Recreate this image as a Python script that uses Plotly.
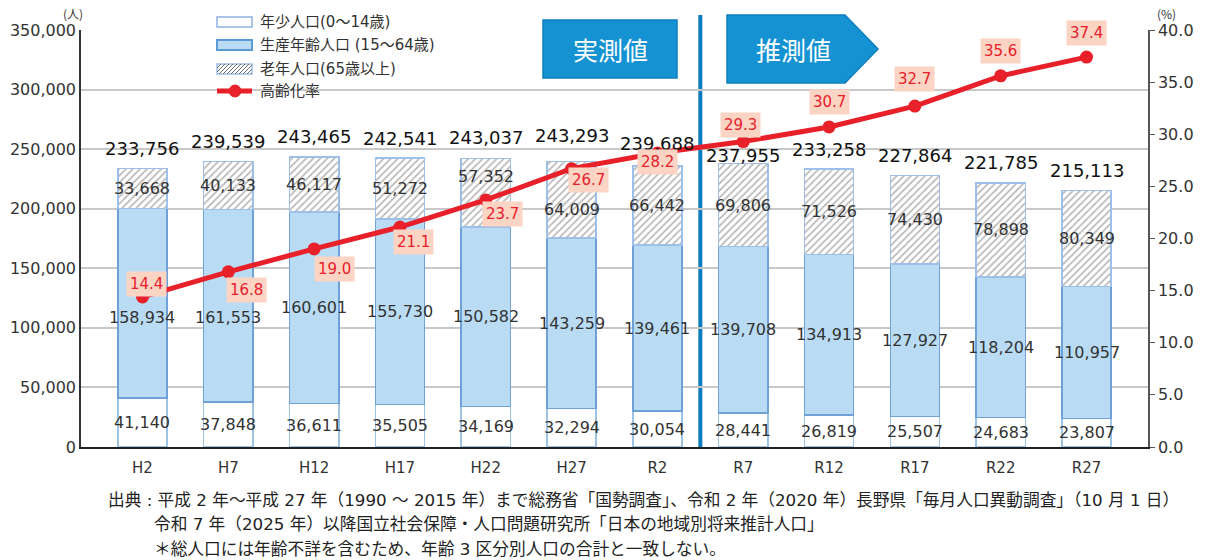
import plotly.graph_objects as go

# ---- data ----
years = ["H2", "H7", "H12", "H17", "H22", "H27", "R2", "R7", "R12", "R17", "R22", "R27"]
young = [41140, 37848, 36611, 35505, 34169, 32294, 30054, 28441, 26819, 25507, 24683, 23807]
working = [158934, 161553, 160601, 155730, 150582, 143259, 139461, 139708, 134913, 127927, 118204, 110957]
elderly = [33668, 40133, 46117, 51272, 57352, 64009, 66442, 69806, 71526, 74430, 78898, 80349]
total = [233756, 239539, 243465, 242541, 243037, 243293, 239688, 237955, 233258, 227864, 221785, 215113]
aging_rate = [14.4, 16.8, 19.0, 21.1, 23.7, 26.7, 28.2, 29.3, 30.7, 32.7, 35.6, 37.4]

legend_names = ["年少人口(0～14歳)", "生産年齢人口 (15～64歳)", "老年人口(65歳以上)", "高齢化率"]
source_lines = [
    "出典 : 平成 2 年～平成 27 年（1990 ～ 2015 年）まで総務省「国勢調査」、令和 2 年（2020 年）長野県「毎月人口異動調査」（10 月 1 日）",
    "令和 7 年（2025 年）以降国立社会保障・人口問題研究所「日本の地域別将来推計人口」",
    "＊総人口には年齢不詳を含むため、年齢 3 区分別人口の合計と一致しない。",
]

# ---- label nudges (px) ----
total_up = [20, 20, 20, 20, 20, 22, 18, 8, 20, 20, 20, 20]
mid_up = [-14, -12, 0, 0, 0, 0, 0, 0, 0, 0, 0, 0]
top_up = [0, 0, 0, 0, 16, -10, 0, 0, 0, 0, 0, 0]
rate_dx = [4, 18, 20, 14, 17, 17, 0, -3, 0, 0, 0, 0]
rate_dy = [-13, 18, 20, 15, 14, 11, 9, -17, -25, -27, -25, -24]

FONT = "DejaVu Sans, Noto Sans CJK JP"
JFONT = "Noto Sans CJK JP"
BLUE = "#1592D2"
RED = "#E8202A"

# plot area in page px
X0, X1, YT, YB = 81, 1148, 30, 447
W, H = 1206, 560


def px(x):
    return (x - X0) / (X1 - X0)


def py(y):
    return (YB - y) / (YB - YT)


fig = go.Figure()
fig.add_trace(go.Bar(
    x=years, y=young, name=legend_names[0],
    marker=dict(color="white", line=dict(color="#9DC3E6", width=1.5)),
))
fig.add_trace(go.Bar(
    x=years, y=working, name=legend_names[1],
    marker=dict(color="#B9DCF4", line=dict(color="#6FA0D8", width=1.5)),
))
fig.add_trace(go.Bar(
    x=years, y=elderly, name=legend_names[2],
    marker=dict(color="white", line=dict(color="#9DBFE8", width=1.5),
                pattern=dict(shape="/", fgcolor="#6a6a6a", bgcolor="white",
                             size=5, solidity=0.32)),
))
fig.add_trace(go.Scatter(
    x=years, y=aging_rate, name=legend_names[3], yaxis="y2",
    mode="lines+markers",
    line=dict(color=RED, width=5),
    marker=dict(color=RED, size=13),
))

ann = []
for i, yr in enumerate(years):
    b1 = young[i]
    b2 = young[i] + working[i]
    b3 = b2 + elderly[i]
    seg_font = dict(family=FONT, size=16, color="#333333")
    ann.append(dict(x=yr, y=b1 / 2, text=f"{young[i]:,}", showarrow=False,
                    font=seg_font))
    ann.append(dict(x=yr, y=(b1 + b2) / 2, text=f"{working[i]:,}", showarrow=False,
                    font=seg_font, yshift=mid_up[i]))
    ann.append(dict(x=yr, y=(b2 + b3) / 2, text=f"{elderly[i]:,}", showarrow=False,
                    font=seg_font, yshift=top_up[i]))
    ann.append(dict(x=yr, y=total[i], text=f"{total[i]:,}", showarrow=False,
                    font=dict(family=FONT, size=18, color="#111111"),
                    yshift=total_up[i]))
    ann.append(dict(x=yr, y=aging_rate[i], yref="y2", text=f"{aging_rate[i]:.1f}",
                    showarrow=False, bgcolor="#FBD4C4", borderpad=3,
                    font=dict(family=FONT, size=15, color=RED),
                    xshift=rate_dx[i], yshift=-rate_dy[i]))


def paper_text(x, y, text, size, color="#333", xanchor="center", family=JFONT):
    return dict(x=px(x), y=py(y), xref="paper", yref="paper", text=text,
                xanchor=xanchor, yanchor="middle", showarrow=False,
                font=dict(family=family, size=size, color=color))


# axis unit labels
ann.append(paper_text(73, 13, "(人)", 12))
ann.append(paper_text(1166, 13, "(%)", 12))

# banner texts
ann.append(paper_text(610, 49, "実測値", 25, "white"))
ann.append(paper_text(793, 49, "推測値", 25, "white"))

# legend texts
for name, yy in zip(legend_names, [22, 45, 69, 91]):
    ann.append(paper_text(258, yy, name, 15, xanchor="left", family=FONT))

# source
for txt, (xx, yy) in zip(source_lines, [(106, 500), (152, 524), (152, 549)]):
    ann.append(paper_text(xx, yy, txt, 16.7, "#222", xanchor="left", family=FONT))

shapes = []
# divider between observed and projected
shapes.append(dict(type="line", xref="x", yref="paper", x0=6.5, x1=6.5,
                   y0=0, y1=py(15), line=dict(color="#0B7BC0", width=4),
                   layer="between"))
# banners
shapes.append(dict(type="rect", xref="paper", yref="paper",
                   x0=px(543), x1=px(677), y0=py(78), y1=py(20),
                   fillcolor=BLUE, line=dict(color="#0E7FC0", width=1.5)))
arrow = (f"M {px(727)},{py(15)} L {px(845)},{py(15)} L {px(878)},{py(49)} "
         f"L {px(845)},{py(83)} L {px(727)},{py(83)} Z")
shapes.append(dict(type="path", xref="paper", yref="paper", path=arrow,
                   fillcolor=BLUE, line=dict(color="#0E7FC0", width=1.5)))

# legend swatches
sx0, sx1 = 217, 252
shapes.append(dict(type="rect", xref="paper", yref="paper",
                   x0=px(sx0), x1=px(sx1), y0=py(27), y1=py(17),
                   fillcolor="white", line=dict(color="#8DB4E2", width=1.5)))
shapes.append(dict(type="rect", xref="paper", yref="paper",
                   x0=px(sx0), x1=px(sx1), y0=py(50), y1=py(40),
                   fillcolor="#B9DCF4", line=dict(color="#5B9BD5", width=2)))
shapes.append(dict(type="rect", xref="paper", yref="paper",
                   x0=px(sx0), x1=px(sx1), y0=py(74), y1=py(64),
                   fillcolor="white", line=dict(color="#9DBFE8", width=1.5)))
hy0, hy1 = 64, 74
h = hy1 - hy0
segs = []
k = sx0 - h
while k < sx1:
    xa, ya = k, hy1
    xb, yb = k + h, hy0
    if xa < sx0:
        ya = hy1 - (sx0 - xa)
        xa = sx0
    if xb > sx1:
        yb = hy0 + (xb - sx1)
        xb = sx1
    if xb > xa:
        segs.append(f"M {px(xa)},{py(ya)} L {px(xb)},{py(yb)}")
    k += 4
shapes.append(dict(type="path", xref="paper", yref="paper", path=" ".join(segs),
                   line=dict(color="#707070", width=1)))
shapes.append(dict(type="line", xref="paper", yref="paper",
                   x0=px(sx0), x1=px(sx1), y0=py(91), y1=py(91),
                   line=dict(color=RED, width=5)))
shapes.append(dict(type="circle", xref="paper", yref="paper",
                   x0=px(229), x1=px(241), y0=py(97), y1=py(85),
                   fillcolor=RED, line=dict(color=RED, width=1)))

fig.update_layout(
    width=W, height=H,
    margin=dict(l=X0, r=W - X1, t=YT, b=H - YB, autoexpand=False),
    paper_bgcolor="white", plot_bgcolor="white",
    font=dict(family=FONT, color="#333"),
    barmode="stack", bargap=0.426,
    showlegend=False,
    xaxis=dict(showline=True, linecolor="#222", linewidth=2, ticks="",
               ticklabelstandoff=6,
               tickfont=dict(family="DejaVu Sans", size=15, color="#333")),
    yaxis=dict(range=[0, 350000], dtick=50000, tickformat=",d",
               showgrid=True, gridcolor="#C8C8C8", gridwidth=1.5,
               showline=True, linecolor="#333", linewidth=1.5,
               zeroline=False, tickfont=dict(size=16, color="#333")),
    yaxis2=dict(range=[0, 40], dtick=5, tickformat=".1f", overlaying="y",
                side="right", showgrid=False, zeroline=False,
                showline=True, linecolor="#555", linewidth=1.5,
                ticks="outside", ticklen=5, tickcolor="#555",
                tickfont=dict(size=16, color="#333")),
    annotations=ann,
    shapes=shapes,
)

# page body has a default 8px margin; drop it so the figure fills the window
fig.write_html("out.html", config={"displayModeBar": False},
               post_script="document.body.style.margin='0';")
